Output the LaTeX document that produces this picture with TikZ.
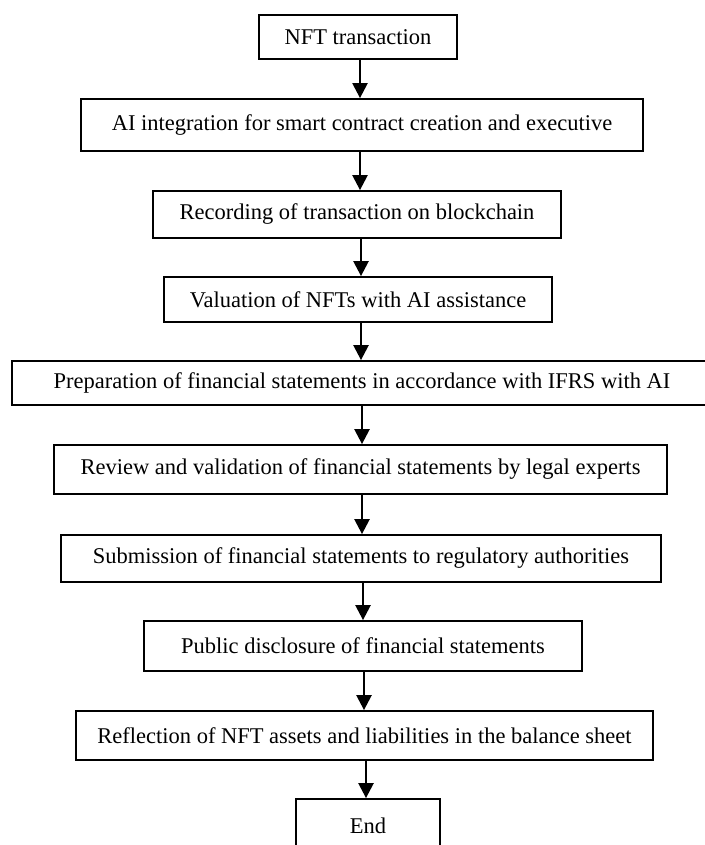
\documentclass[tikz,border=0pt]{standalone}
\usepackage{fontspec}
\setmainfont{Liberation Serif}
\usetikzlibrary{arrows.meta}
\begin{document}
\begin{tikzpicture}[x=1pt,y=-1pt,
  box/.style={draw=black, line width=1.8pt, rectangle, inner sep=0pt, align=center,
    font=\fontsize{22.5}{27}\selectfont},
  arr/.style={line width=2.4pt, -{Triangle[length=15pt,width=15pt]}}]
\useasboundingbox (0,0) rectangle (704,845);
\node[box, minimum width=198pt, minimum height=44pt] (nft) at (358,37) {NFT transaction};
\node[box, minimum width=562pt, minimum height=52pt] (ai) at (362,125) {AI integration for smart contract creation and executive};
\node[box, minimum width=408pt, minimum height=47pt] (rec) at (357,214.5) {Recording of transaction on blockchain};
\node[box, minimum width=388pt, minimum height=45pt] (val) at (358,299.5) {Valuation of NFTs with AI assistance};
\node[box, minimum width=700pt, minimum height=44pt] (prep) at (362,383) {Preparation of financial statements in accordance with IFRS with AI};
\node[box, minimum width=613pt, minimum height=49pt] (rev) at (360.5,469.5) {Review and validation of financial statements by legal experts};
\node[box, minimum width=600pt, minimum height=47pt] (sub) at (361,558.5) {Submission of financial statements to regulatory authorities};
\node[box, minimum width=438pt, minimum height=50pt] (pub) at (363,646) {Public disclosure of financial statements};
\node[box, minimum width=577pt, minimum height=49pt] (refl) at (364.5,735.5) {Reflection of NFT assets and liabilities in the balance sheet};
\node[box, minimum width=144pt, minimum height=54pt] (end) at (368,826) {End};
\draw[arr] (nft.south -| 360,0) -- (ai.north -| 360,0);
\draw[arr] (ai.south -| 360,0) -- (rec.north -| 360,0);
\draw[arr] (rec.south -| 361,0) -- (val.north -| 361,0);
\draw[arr] (val.south -| 361,0) -- (prep.north -| 361,0);
\draw[arr] (prep.south -| 362,0) -- (rev.north -| 362,0);
\draw[arr] (rev.south -| 362,0) -- (sub.north -| 362,0);
\draw[arr] (sub.south -| 363,0) -- (pub.north -| 363,0);
\draw[arr] (pub.south -| 364,0) -- (refl.north -| 364,0);
\draw[arr] (refl.south -| 366,0) -- (end.north -| 366,0);
\end{tikzpicture}
\end{document}
